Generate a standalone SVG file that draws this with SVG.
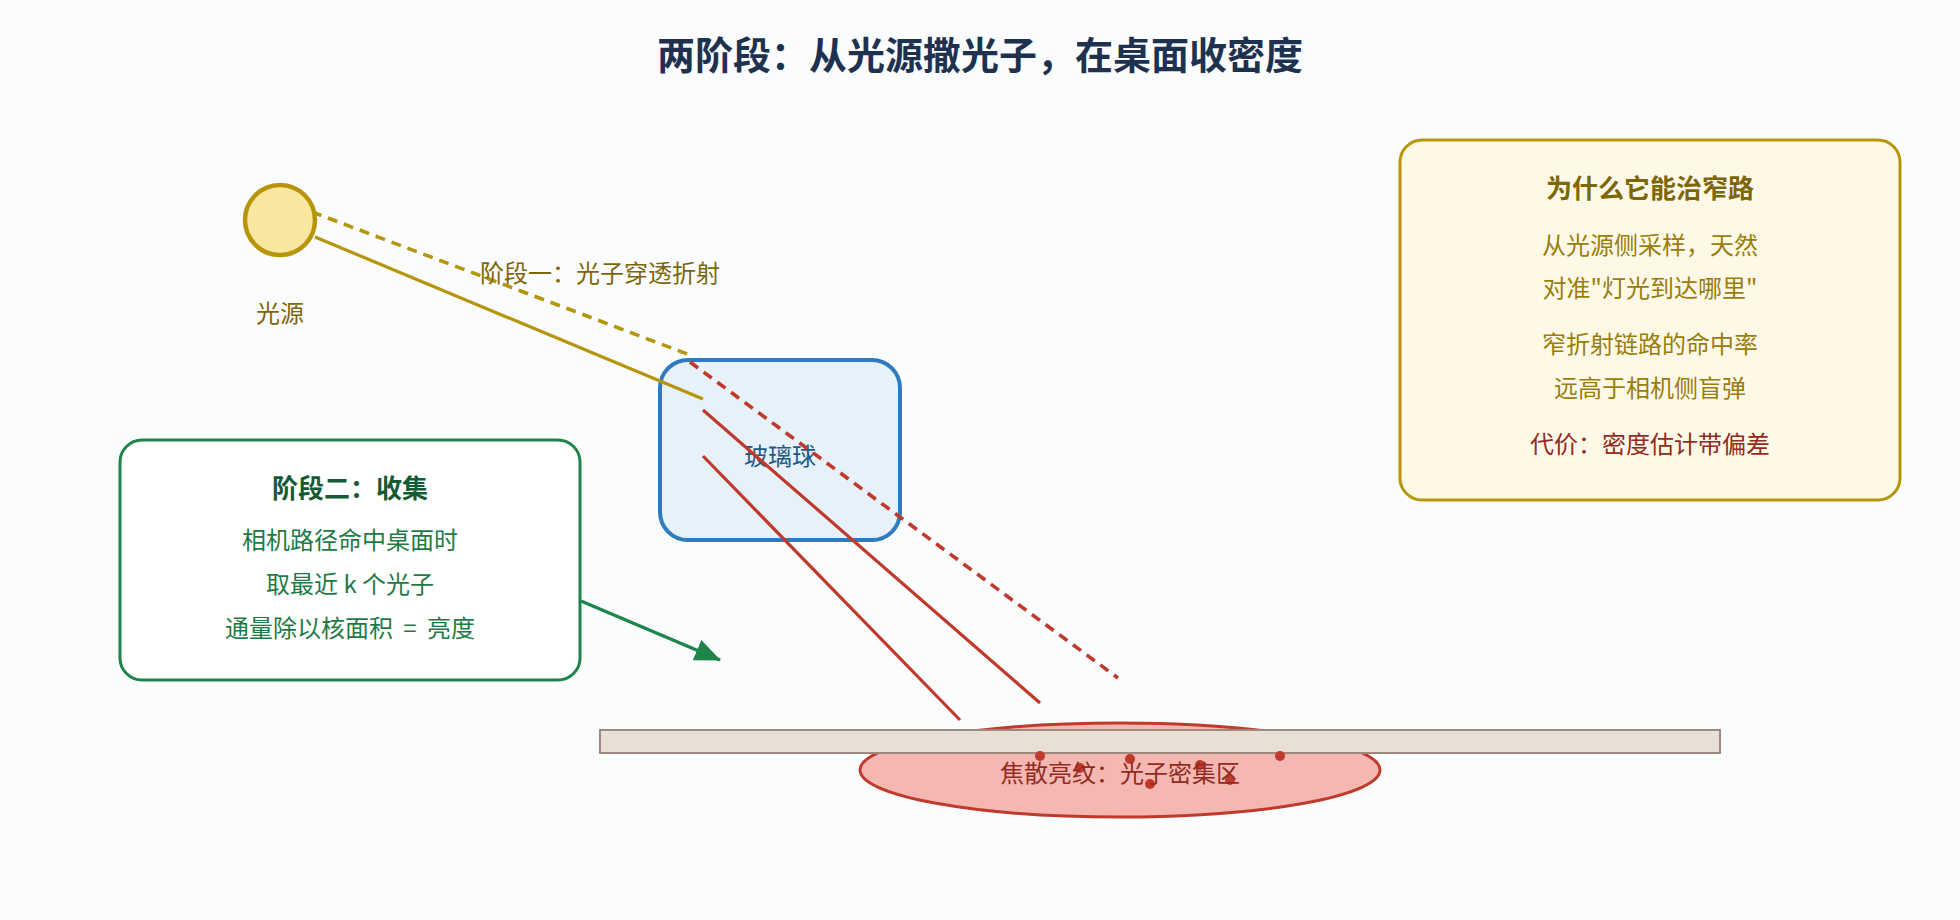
<svg xmlns="http://www.w3.org/2000/svg" width="1960" height="920" viewBox="0 0 1960 920">
  <style>
    text { font-family: "Noto Sans CJK SC", "Noto Sans", "Liberation Sans", sans-serif; text-anchor: middle; font-size: 24px; }
    .title { font-size: 38px; font-weight: bold; fill: #1e3250; }
    .gold { fill: #7d6608; }
    .goldbody { fill: #9a7d0a; }
    .red { fill: #922b21; }
    .greenT { fill: #145a32; font-weight: bold; font-size: 26px; }
    .greenB { fill: #1e7a45; }
    .goldT { fill: #7d6608; font-weight: bold; font-size: 26px; }
    .glassT { fill: #1f5a85; }
    .ray { stroke-width: 3.2; fill: none; }
    .dash { stroke-width: 3.6; stroke-dasharray: 10 7; }
  </style>
  <defs>
    <marker id="arrowG" markerUnits="userSpaceOnUse" markerWidth="26" markerHeight="24" viewBox="0 0 26 24" refX="25" refY="12" orient="auto">
      <path d="M0,1 L26,12 L0,23 z" fill="#1e8449"/>
    </marker>
  </defs>
  <rect x="0" y="0" width="1960" height="920" fill="#fbfcfe"/>

  <text class="title" x="980" y="69">两阶段：从光源撒光子，在桌面收密度</text>

  <g id="caustic">
    <ellipse cx="1120" cy="770" rx="260" ry="47" fill="#f5b7b1" stroke="#c0392b" stroke-width="3"/>
  </g>

  <g id="table">
    <rect x="600" y="730" width="1120" height="23" fill="#e8e0d5" stroke="#a1887f" stroke-width="2"/>
  </g>

  <g id="glass">
    <rect x="660" y="360" width="240" height="180" rx="28" fill="#e6f1fa" stroke="#2e7bbf" stroke-width="4"/>
    <text class="glassT" x="780" y="465">玻璃球</text>
  </g>

  <g id="connectors">
    <line class="ray dash" x1="312" y1="212" x2="690" y2="355" stroke="#b7950b"/>
    <line class="ray" x1="315" y1="237" x2="703" y2="399" stroke="#b7950b"/>
    <line class="ray dash" x1="690" y1="362" x2="1118" y2="678" stroke="#c0392b"/>
    <line class="ray" x1="703" y1="410" x2="1040" y2="703" stroke="#c0392b"/>
    <line class="ray" x1="703" y1="456" x2="960" y2="720" stroke="#c0392b"/>
    <line x1="581" y1="601" x2="720" y2="660" stroke="#1e8449" stroke-width="3.5" marker-end="url(#arrowG)"/>
  </g>

  <g id="light">
    <circle cx="280" cy="220" r="35" fill="#f9e79f" stroke="#b7950b" stroke-width="4.5"/>
    <text class="gold" x="280" y="322">光源</text>
  </g>

  <g id="stage1-label">
    <text class="gold" x="600" y="282">阶段一：光子穿透折射</text>
  </g>

  <g id="photons" fill="#c0392b">
    <circle cx="1040" cy="756" r="5"/>
    <circle cx="1080" cy="768" r="5"/>
    <circle cx="1130" cy="759" r="5"/>
    <circle cx="1150" cy="784" r="5"/>
    <circle cx="1200" cy="765" r="5"/>
    <circle cx="1230" cy="780" r="5"/>
    <circle cx="1280" cy="756" r="5"/>
  </g>

  <g id="caustic-label">
    <text class="red" x="1120" y="782">焦散亮纹：光子密集区</text>
  </g>

  <g id="stage2">
    <rect x="120" y="440" width="460" height="240" rx="22" fill="#ffffff" stroke="#1e8449" stroke-width="3"/>
    <text class="greenT" x="350" y="498">阶段二：收集</text>
    <text class="greenB" x="350" y="549">相机路径命中桌面时</text>
    <text class="greenB" x="350" y="593">取最近 k 个光子</text>
    <text class="greenB" x="350" y="637" word-spacing="5">通量除以核面积 = 亮度</text>
  </g>

  <g id="why">
    <rect x="1400" y="140" width="500" height="360" rx="22" fill="#fef9e7" stroke="#b7950b" stroke-width="3"/>
    <text class="goldT" x="1650" y="198">为什么它能治窄路</text>
    <text class="goldbody" x="1650" y="254">从光源侧采样，天然</text>
    <text class="goldbody" x="1650" y="297">对准"灯光到达哪里"</text>
    <text class="goldbody" x="1650" y="353">窄折射链路的命中率</text>
    <text class="goldbody" x="1650" y="397">远高于相机侧盲弹</text>
    <text class="red" x="1650" y="453">代价：密度估计带偏差</text>
  </g>
</svg>
